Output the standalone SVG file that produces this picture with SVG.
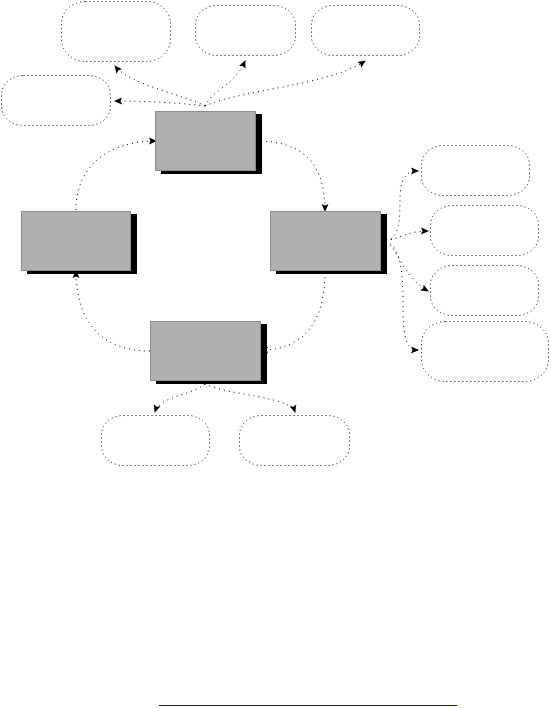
<svg xmlns="http://www.w3.org/2000/svg" width="551" height="708" viewBox="0 0 551 708">
<style>
.box{fill:#b0b0b0;stroke:#8c8c8c;stroke-width:1}
.shadow{fill:#000}
.oval{fill:none;stroke:#000;stroke-width:1;stroke-dasharray:1 3}
.conn{fill:none;stroke:#000;stroke-width:1;stroke-dasharray:1 4}
</style>
<defs>
<marker id="arr" markerUnits="userSpaceOnUse" markerWidth="9" markerHeight="9" refX="7" refY="4" orient="auto">
<path d="M0,0.5 L8,4 L0,7.5 L1.5,4 z" fill="#000"/>
</marker>
</defs>
<rect width="551" height="708" fill="#fff"/>
<g id="connectors">
<path class="conn" d="M205,106 C185,95 130,85 115,66" marker-end="url(#arr)"/>
<path class="conn" d="M205,106 C180,103 150,101 115,101" marker-end="url(#arr)"/>
<path class="conn" d="M205,106 C212,90 235,85 245,61" marker-end="url(#arr)"/>
<path class="conn" d="M205,106 C240,90 330,85 365,61" marker-end="url(#arr)"/>
<path class="conn" d="M256,141 C300,141 325,160 325,211" marker-end="url(#arr)"/>
<path class="conn" d="M76,210 C76,165 110,141 156,141" marker-end="url(#arr)"/>
<path class="conn" d="M150,351 C100,351 76,320 76,271" marker-end="url(#arr)"/>
<path class="conn" d="M325,272 C325,320 305,350 261,350" marker-end="url(#arr)"/>
<path class="conn" d="M381,241 C397,241 400,230 400,200 C400,180 405,171 418,171" marker-end="url(#arr)"/>
<path class="conn" d="M381,241 C397,241 405,231 428,231" marker-end="url(#arr)"/>
<path class="conn" d="M381,241 C397,241 400,275 428,291" marker-end="url(#arr)"/>
<path class="conn" d="M381,241 C397,241 403,260 403,300 C403,335 405,350 418,350" marker-end="url(#arr)"/>
<path class="conn" d="M205,384 C190,396 160,396 155,412" marker-end="url(#arr)"/>
<path class="conn" d="M205,384 C230,396 290,396 295,412" marker-end="url(#arr)"/>
</g>
<g id="n-top"><rect class="shadow" x="161" y="114" width="101" height="60"/><rect class="box" x="155.5" y="111.5" width="100" height="59"/></g>
<g id="n-left"><rect class="shadow" x="27" y="214" width="110" height="60"/><rect class="box" x="21.5" y="211.5" width="109" height="59"/></g>
<g id="n-right"><rect class="shadow" x="276" y="214" width="111" height="60"/><rect class="box" x="270.5" y="211.5" width="110" height="59"/></g>
<g id="n-bottom"><rect class="shadow" x="156" y="324" width="111" height="60"/><rect class="box" x="150.5" y="321.5" width="110" height="59"/></g>
<g id="o-a"><rect class="oval" x="61.5" y="1.5" width="109" height="60" rx="24" ry="22"/></g>
<g id="o-b"><rect class="oval" x="195.5" y="5.5" width="100" height="50" rx="22" ry="19"/></g>
<g id="o-c"><rect class="oval" x="311.5" y="5.5" width="108" height="50" rx="22" ry="19"/></g>
<g id="o-d"><rect class="oval" x="1.5" y="75.5" width="109" height="50" rx="22" ry="19"/></g>
<g id="o-e"><rect class="oval" x="421.5" y="145.5" width="108" height="50" rx="22" ry="19"/></g>
<g id="o-f"><rect class="oval" x="430.5" y="205.5" width="108" height="50" rx="22" ry="19"/></g>
<g id="o-g"><rect class="oval" x="430.5" y="265.5" width="108" height="50" rx="22" ry="19"/></g>
<g id="o-h"><rect class="oval" x="421.5" y="321.5" width="127" height="60" rx="24" ry="22"/></g>
<g id="o-i"><rect class="oval" x="101.5" y="415.5" width="108" height="50" rx="22" ry="19"/></g>
<g id="o-j"><rect class="oval" x="239.5" y="415.5" width="110" height="50" rx="22" ry="19"/></g>
<rect x="159" y="705" width="298" height="1" fill="#0000ff"/>
</svg>
